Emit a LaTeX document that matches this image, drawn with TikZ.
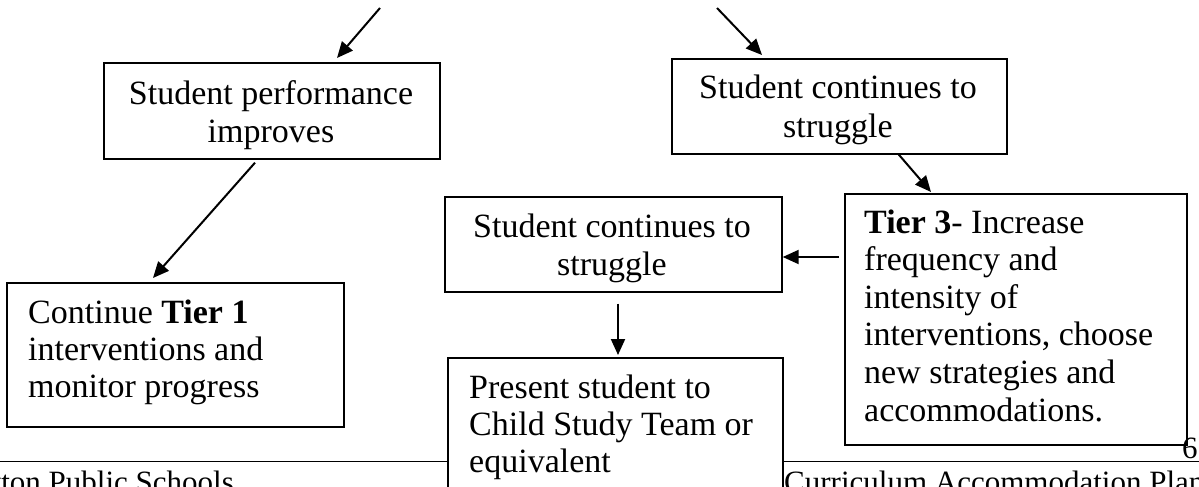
\documentclass[tikz,border=0pt]{standalone}
\usepackage{fontspec}
\setmainfont{Liberation Serif}
\usetikzlibrary{arrows.meta}
\tikzset{
  box/.style={draw=black, line width=1.7pt, fill=white, inner sep=0pt, anchor=north west},
  txt/.style={inner sep=0pt, font=\fontsize{34}{38}\selectfont},
  foot/.style={inner sep=0pt, font=\fontsize{31}{36}\selectfont},
  arr/.style={line width=2pt, -{Triangle[length=16pt,width=14pt]}}
}
\begin{document}
\begin{tikzpicture}[x=1pt,y=-1pt]
\useasboundingbox (0,0) rectangle (1199,487);
\clip (0,0) rectangle (1199,487);
% footer rule
\draw[line width=1pt] (0,461) -- (1199,461);
% boxes
\node[box, minimum width=336pt, minimum height=96pt] (A) at (103,62) {};
\node[box, minimum width=335pt, minimum height=95pt] (B) at (671,58) {};
\node[box, minimum width=342pt, minimum height=251pt] (C) at (844,193) {};
\node[box, minimum width=337pt, minimum height=95pt] (D) at (444,196) {};
\node[box, minimum width=335pt, minimum height=170pt] (E) at (447,357) {};
\node[box, minimum width=337pt, minimum height=144pt] (F) at (6,282) {};
% texts
\node[txt, anchor=base] (a1) at (271,104) {Student performance};
\node[txt, anchor=base] (a2) at (271,142) {improves};
\node[txt, anchor=base] (b1) at (838,99) {Student continues to};
\node[txt, anchor=base] (b2) at (838,137) {struggle};
\node[txt, anchor=base] (d1) at (612,237) {Student continues to};
\node[txt, anchor=base] (d2) at (612,275) {struggle};
\node[txt, anchor=base west] (c1) at (864,233) {\textbf{Tier 3}- Increase};
\node[txt, anchor=base west] (c2) at (864,270.6) {frequency and};
\node[txt, anchor=base west] (c3) at (864,308.2) {intensity of};
\node[txt, anchor=base west] (c4) at (864,345.8) {interventions, choose};
\node[txt, anchor=base west] (c5) at (864,383.4) {new strategies and};
\node[txt, anchor=base west] (c6) at (864,421) {accommodations.};
\node[txt, anchor=base west] (e1) at (469,398) {Present student to};
\node[txt, anchor=base west] (e2) at (469,435) {Child Study Team or};
\node[txt, anchor=base west] (e3) at (469,472) {equivalent};
\node[txt, anchor=base west] (f1) at (28,323) {Continue \textbf{Tier 1}};
\node[txt, anchor=base west] (f2) at (28,360) {interventions and};
\node[txt, anchor=base west] (f3) at (28,397) {monitor progress};
% footer texts
\node[foot, anchor=base east] (fl) at (234,492) {yton Public Schools};
\node[foot, anchor=base west] (fr) at (784,492) {Curriculum Accommodation Plan};
\node[foot, anchor=base west] (pg) at (1182,458) {6};
% connectors
\coordinate (s1) at (380,8);
\coordinate (s2) at (717,8);
\draw[arr] (s1) -- ([shift={(234,-4)}]A.north west);
\draw[arr] (s2) -- ([shift={(91,-3)}]B.north west);
\draw[arr] ([shift={(227,-1)}]B.south west) -- ([shift={(87,-1)}]C.north west);
\draw[arr] ([shift={(152,3)}]A.south west) -- ([shift={(147,-4)}]F.north west);
\draw[arr] ([shift={(-5,64)}]C.north west) -- ([shift={(0,61)}]D.north east);
\draw[arr] ([shift={(174,11)}]D.south west) -- ([shift={(171,-2)}]E.north west);
\end{tikzpicture}
\end{document}
